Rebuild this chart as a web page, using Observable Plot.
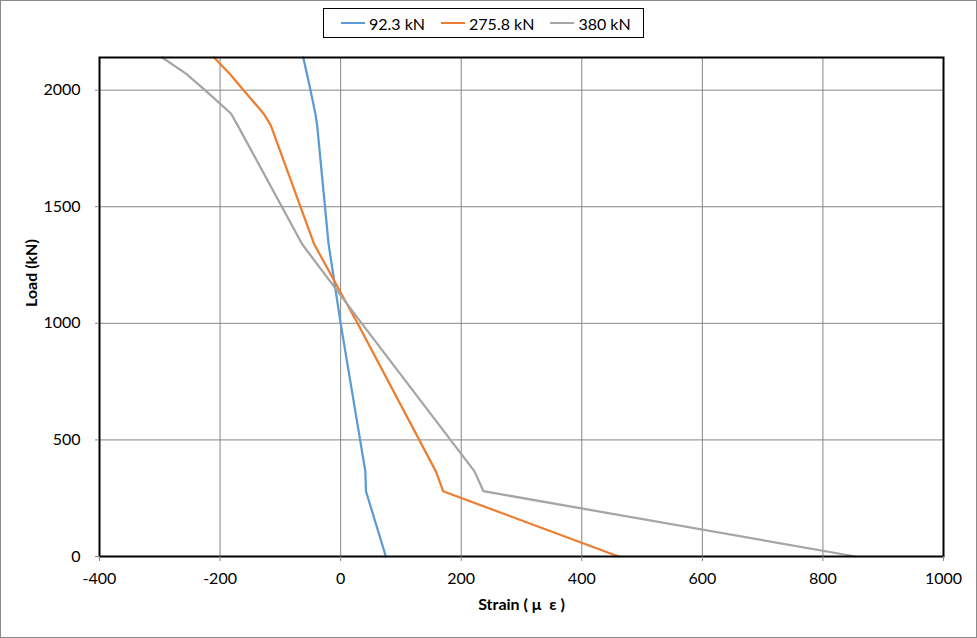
<!DOCTYPE html>
<html>
<head>
<meta charset="utf-8">
<script src="https://cdn.jsdelivr.net/npm/d3@7"></script>
<script src="https://cdn.jsdelivr.net/npm/@observablehq/plot@0.6"></script>
<style>
  html, body { margin: 0; padding: 0; background: #fff; }
  #wrap { position: relative; width: 977px; height: 638px; overflow: hidden; font-family: Lato, "Open Sans", sans-serif; }
  #border { position: absolute; left: 0; top: 0; width: 977px; height: 638px; box-sizing: border-box; border: 1px solid #8a8a8a; pointer-events: none; }
  #legend { position: absolute; left: 323px; top: 8px; width: 321px; height: 30px; box-sizing: border-box; border: 1px solid #000; background: #fff;
            display: flex; align-items: center; padding-left: 17px; font-size: 16px; color: #000; white-space: nowrap; }
  .item { display: flex; align-items: center; margin-right: 16px; flex-shrink: 0; white-space: nowrap; }
  .sw { display: inline-block; width: 24px; height: 0; border-top: 2.25px solid; margin-right: 4px; flex-shrink: 0; }
</style>
</head>
<body>
<div id="wrap"><div id="chart"></div><div id="legend"></div><div id="border"></div></div>
<script>
// Data
const loads = [0, 280, 365, 1000, 1340, 1850, 1900, 2000, 2070, 2140];
const strain92_3 = [75, 42, 41, 0, -20, -39, -42, -50, -56, -62];
const strain275_8 = [461, 170, 158, 28, -44, -116, -128, -161, -184, -210];
const strain380 = [854, 237, 222, 35, -64, -171, -182, -225, -256, -296];

const seriesNames = ["92.3 kN", "275.8 kN", "380 kN"];
const seriesColors = ["#5B9BD5", "#ED7D31", "#A5A5A5"];
const seriesValues = [strain92_3, strain275_8, strain380];

const xTicks = [-400, -200, 0, 200, 400, 600, 800, 1000];
const yTicks = [0, 500, 1000, 1500, 2000];

const data = seriesNames.flatMap((name, i) =>
  loads.map((load, j) => ({series: name, load, strain: seriesValues[i][j]})));

const chart = Plot.plot({
  width: 977,
  height: 638,
  marginLeft: 99,
  marginRight: 34,
  marginTop: 57,
  marginBottom: 82,
  style: {fontFamily: "Lato, 'Open Sans', sans-serif", fontSize: "16px", color: "#000", background: "transparent", overflow: "visible"},
  x: {domain: [-400, 1000], ticks: xTicks, label: null},
  y: {domain: [0, 2140], ticks: yTicks, label: null},
  color: {domain: seriesNames, range: seriesColors},
  marks: [
    Plot.gridX(xTicks, {stroke: "#868686", strokeOpacity: 1, strokeWidth: 1}),
    Plot.gridY(yTicks, {stroke: "#868686", strokeOpacity: 1, strokeWidth: 1}),
    Plot.line(data, {x: "strain", y: "load", z: "series", stroke: "series", strokeWidth: 2.25}),
    Plot.frame({stroke: "#000", strokeWidth: 2}),
    Plot.axisX(xTicks, {tickSize: 5, tickPadding: 11, stroke: "#868686", fill: "#000", tickFormat: d => String(d), label: null}),
    Plot.axisY(yTicks, {tickSize: 4, tickPadding: 15, stroke: "#868686", fill: "#000", tickFormat: d => String(d), label: null}),
    Plot.text(["Strain ( μ  ε )"], {frameAnchor: "bottom", dy: 53, fontWeight: "bold", fontSize: 16, fill: "#000"}),
    Plot.text(["Load (kN)"], {frameAnchor: "left", dx: -68, rotate: -90, fontWeight: "bold", fontSize: 16, fill: "#000"})
  ]
});
document.getElementById("chart").appendChild(chart);

const legend = document.getElementById("legend");
seriesNames.forEach((name, i) => {
  const item = document.createElement("div");
  item.className = "item";
  const sw = document.createElement("span");
  sw.className = "sw";
  sw.style.borderTopColor = seriesColors[i];
  const label = document.createElement("span");
  label.textContent = name;
  item.appendChild(sw);
  item.appendChild(label);
  legend.appendChild(item);
});
</script>
</body>
</html>
